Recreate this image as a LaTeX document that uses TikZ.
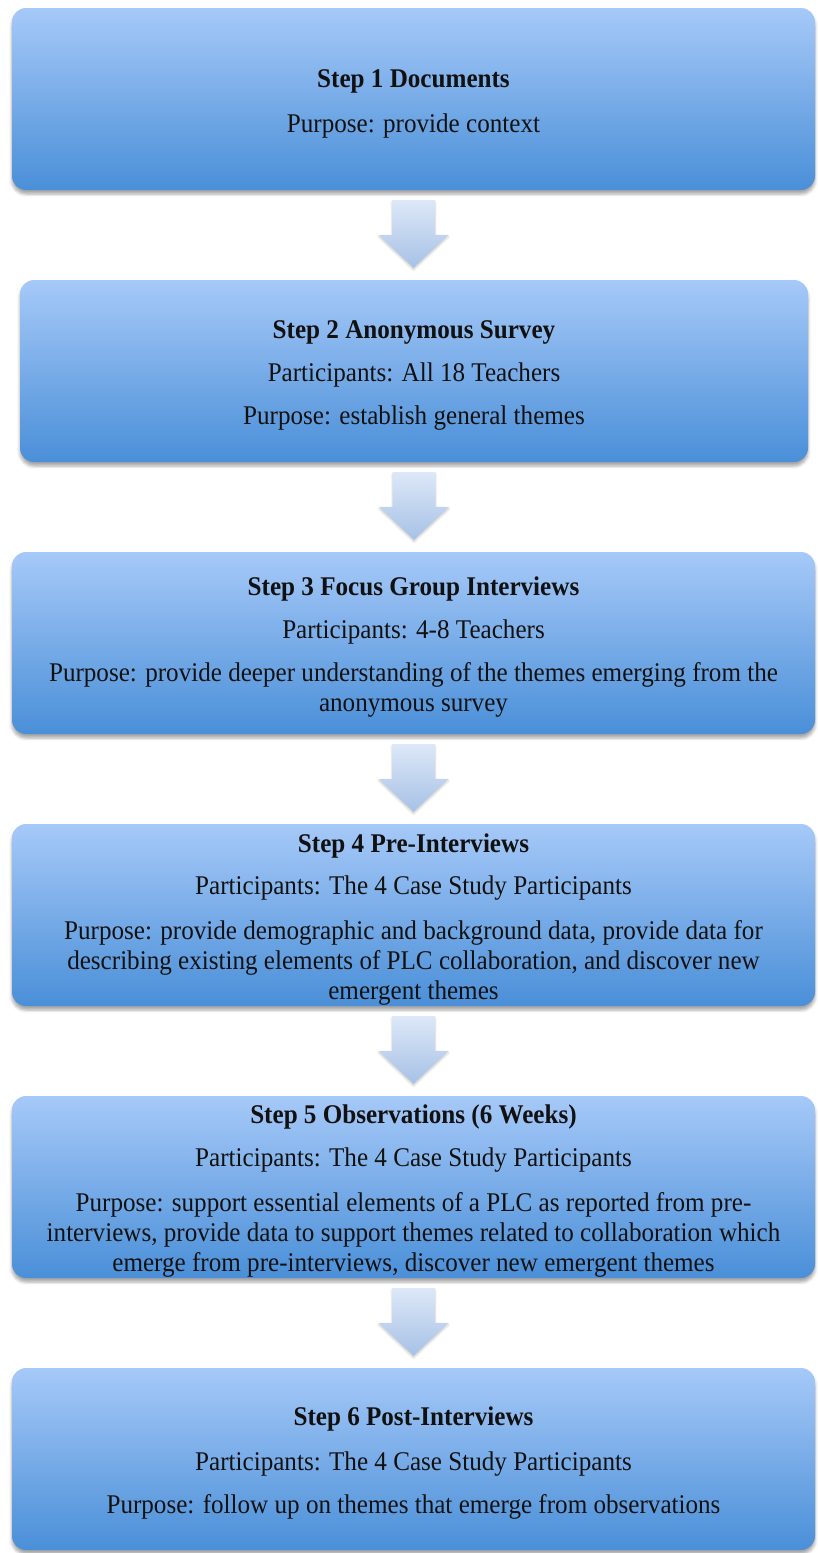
\documentclass[tikz,border=0pt]{standalone}
\usepackage{fontspec}
\setmainfont{Liberation Serif}[FakeStretch=0.93]
\usetikzlibrary{calc,shadows.blur}
\definecolor{boxtop}{HTML}{A6C9F8}
\definecolor{boxbot}{HTML}{4A8FD8}
\definecolor{arrtop}{HTML}{DCE8F8}
\definecolor{arrbot}{HTML}{A7C1E6}
\definecolor{ink}{HTML}{111111}
\newcommand\topgap{\rule{0pt}{27.5pt}}
\newcommand\blockarr[2]{%
  \path[blockarrow] let \p1=($(#1.south)+(0,-10)$), \p2=($(#2.north)+(0,12)$) in
    (\x1-21.5pt,\y1) -- (\x1+21.5pt,\y1) -- (\x1+21.5pt,\y2+33pt) -- (\x1+35pt,\y2+33pt)
    -- (\x1,\y2) -- (\x1-35pt,\y2+33pt) -- (\x1-21.5pt,\y2+33pt) -- cycle;}
\begin{document}
\begin{tikzpicture}[x=1pt,y=1pt,
  stepbox/.style={rounded corners=14pt, top color=boxtop, bottom color=boxbot,
    minimum width=803pt, minimum height=182pt, align=center, text=ink,
    font=\fontsize{27}{30}\selectfont, inner sep=0pt,
    blur shadow={shadow xshift=0pt, shadow yshift=-4pt, shadow blur radius=3pt, shadow opacity=35}},
  blockarrow/.style={top color=arrtop, bottom color=arrbot,
    blur shadow={shadow xshift=0pt, shadow yshift=-2pt, shadow blur radius=2pt, shadow opacity=20}}
]
\useasboundingbox (0,0) rectangle (817,-1553);
\node[stepbox] (b1) at (413.5,-99) {\topgap\textbf{Step 1 Documents}\\[15pt]Purpose: provide context};
\node[stepbox, minimum width=788pt] (b2) at (414,-371) {\topgap\textbf{Step 2 Anonymous Survey}\\[13pt]Participants: All 18 Teachers\\[13pt]Purpose: establish general themes};
\node[stepbox] (b3) at (413.5,-643) {\topgap\textbf{Step 3 Focus Group Interviews}\\[13pt]Participants: 4-8 Teachers\\[13pt]Purpose: provide deeper understanding of the themes emerging from the\\anonymous survey};
\node[stepbox] (b4) at (413.5,-915) {\topgap\textbf{Step 4 Pre-Interviews}\\[12pt]Participants: The 4 Case Study Participants\\[15pt]Purpose: provide demographic and background data, provide data for\\describing existing elements of PLC collaboration, and discover new\\emergent themes};
\node[stepbox] (b5) at (413.5,-1187) {\topgap\textbf{Step 5 Observations (6 Weeks)}\\[13pt]Participants: The 4 Case Study Participants\\[15pt]Purpose: support essential elements of a PLC as reported from pre-\\interviews, provide data to support themes related to collaboration which\\emerge from pre-interviews, discover new emergent themes};
\node[stepbox] (b6) at (413.5,-1459) {\topgap\textbf{Step 6 Post-Interviews}\\[15pt]Participants: The 4 Case Study Participants\\[13pt]Purpose: follow up on themes that emerge from observations};
\blockarr{b1}{b2}
\blockarr{b2}{b3}
\blockarr{b3}{b4}
\blockarr{b4}{b5}
\blockarr{b5}{b6}
\end{tikzpicture}
\end{document}
